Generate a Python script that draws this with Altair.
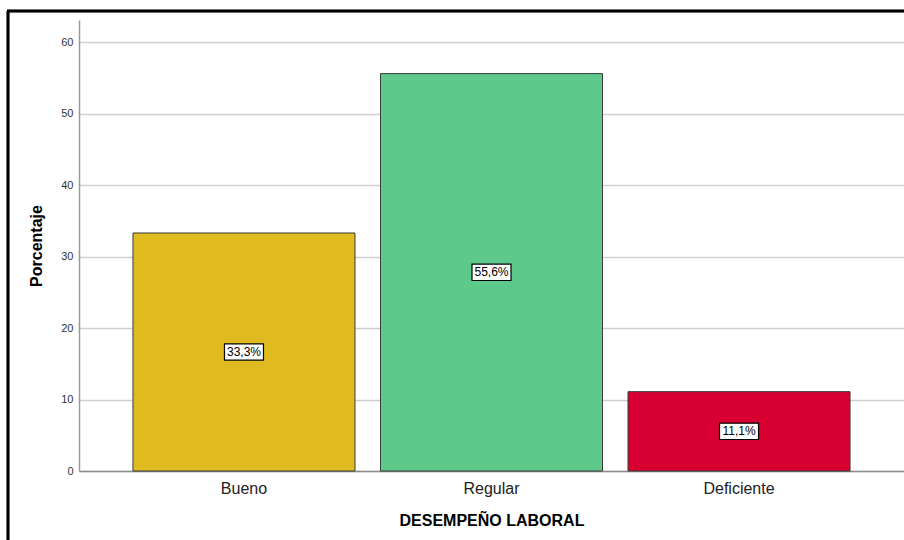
import altair as alt
import pandas as pd

categories = ["Bueno", "Regular", "Deficiente"]
percentages = [33.3, 55.6, 11.1]
labels = ["33,3%", "55,6%", "11,1%"]
colors = ["#E0BB1F", "#5DC98A", "#D70030"]

df = pd.DataFrame({
    "cat": categories,
    "pct": percentages,
    "half": [p / 2 for p in percentages],
    "label": labels,
})

x_enc = alt.X(
    "cat:N",
    sort=categories,
    scale=alt.Scale(paddingInner=0.103, paddingOuter=0.218),
    axis=alt.Axis(
        title="DESEMPEÑO LABORAL",
        labelAngle=0,
        ticks=False,
        labelPadding=9,
        labelFontSize=16,
        labelColor="#222222",
        labelFont="Liberation Sans",
        titleFont="Liberation Sans",
        titleFontSize=16,
        titleFontWeight="bold",
        titleColor="#000000",
        titlePadding=16,
        domainColor="#8c8c8c",
        domainWidth=1.5,
        grid=False,
    ),
)

y_scale = alt.Scale(domain=[0, 63.1], nice=False)

bars = alt.Chart(df).mark_bar(stroke="#3a3a3a", strokeWidth=1).encode(
    x=x_enc,
    y=alt.Y(
        "pct:Q",
        scale=y_scale,
        axis=alt.Axis(
            title="Porcentaje",
            values=[0, 10, 20, 30, 40, 50, 60],
            ticks=False,
            labelPadding=6,
            labelFontSize=11,
            labelColor="#333333",
            labelFont="Liberation Sans",
            titleFont="Liberation Sans",
            titleFontSize=16,
            titleFontWeight="bold",
            titleColor="#000000",
            titlePadding=16,
            domainColor="#9a9a9a",
            domainWidth=1.5,
            grid=True,
            gridColor="#cfcfcf",
            gridWidth=1.5,
        ),
    ),
    color=alt.Color("cat:N", scale=alt.Scale(domain=categories, range=colors), legend=None),
)

boxes = alt.Chart(df).mark_point(
    shape="M-1,-0.42L1,-0.42L1,0.42L-1,0.42Z",
    size=1521,
    filled=True,
    fill="white",
    stroke="black",
    strokeWidth=1.2,
    opacity=1,
).encode(
    x=alt.X("cat:N", sort=categories),
    y=alt.Y("half:Q", scale=y_scale),
)

texts = alt.Chart(df).mark_text(
    font="Liberation Sans", fontSize=12, color="black", align="center", baseline="middle"
).encode(
    x=alt.X("cat:N", sort=categories),
    y=alt.Y("half:Q", scale=y_scale),
    text="label:N",
)

frame_left = alt.Chart(df).mark_rule(color="black", strokeWidth=2.5).encode(
    x=alt.value(-71), y=alt.value(-9), y2=alt.value(540)
)
frame_top = alt.Chart(df).mark_rule(color="black", strokeWidth=2.5).encode(
    x=alt.value(-72), x2=alt.value(900), y=alt.value(-9)
)

chart = alt.layer(bars, boxes, texts, frame_left, frame_top).properties(
    width=825,
    height=451,
    autosize=alt.AutoSizeParams(type="none"),
    padding={"left": 79, "top": 20, "right": 0, "bottom": 69},
    background="white",
).configure_view(stroke=None)

chart.save("out.html", embed_options={"renderer": "svg", "actions": False})
